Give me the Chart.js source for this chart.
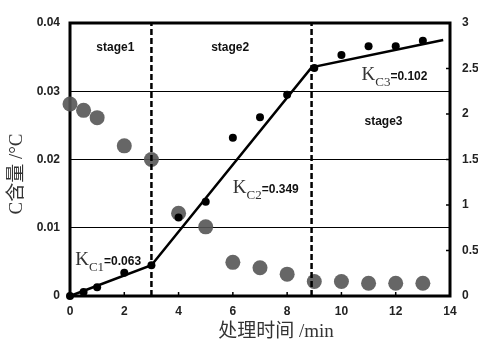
<!DOCTYPE html>
<html><head><meta charset="utf-8">
<script src="https://cdn.jsdelivr.net/npm/chart.js@4.4.1/dist/chart.umd.min.js"></script>
<style>html,body{margin:0;padding:0;background:#fff;}canvas{display:block;}</style>
</head><body>
<canvas id="c" width="478" height="343"></canvas>
<script>
// ---- data ----
const timeC = [0, 0.5, 1, 2, 3, 4, 5, 6, 7, 8, 9, 10, 11, 12, 13];
const carbon = [0, 0.0006, 0.0013, 0.0034, 0.0045, 0.0115, 0.0138, 0.0232, 0.0262, 0.0295, 0.0334, 0.0353, 0.0366, 0.0366, 0.0374];
const timeT = [0, 0.5, 1, 2, 3, 4, 5, 6, 7, 8, 9, 10, 11, 12, 13];
const tempRight = [2.11, 2.04, 1.96, 1.65, 1.5, 0.91, 0.76, 0.37, 0.31, 0.24, 0.16, 0.16, 0.14, 0.14, 0.14];
const fitX = [0, 3, 8.9, 13.75];
const fitY = [0, 0.0045, 0.0335, 0.0375];
const stageBounds = [3, 8.9];
const stageLabels = ['stage1', 'stage2', 'stage3'];
const stageLabelPos = [[1.67, 0.0364], [5.9, 0.0364], [11.55, 0.0256]];
const kNames = ['C1', 'C2', 'C3'];
const kValues = ['0.063', '0.349', '0.102'];
const kPos = [[0.19, 0.00455], [6.0, 0.0151], [10.74, 0.0316]];
const xTitle = '处理时间 /min';
const yTitle = 'C含量 /°C';

const toPts = (xs, ys) => xs.map((x, i) => ({x, y: ys[i]}));

const datasets = [
  {type: 'scatter', label: 'C', data: toPts(timeC, carbon), yAxisID: 'y', clip: false,
   pointRadius: 4, pointBackgroundColor: '#000', pointBorderWidth: 0, order: 0},
  {type: 'line', label: 'fit', data: toPts(fitX, fitY), yAxisID: 'y', clip: false,
   borderColor: '#000', borderWidth: 2.5, pointRadius: 0, fill: false, tension: 0, order: 1},
  {type: 'scatter', label: 'T', data: toPts(timeT, tempRight), yAxisID: 'y2', clip: false,
   pointRadius: 7.5, pointBackgroundColor: 'rgba(85,85,85,0.9)', pointBorderWidth: 0, order: 3}
];
stageBounds.forEach((b, i) => datasets.push({
  type: 'line', label: 'bound' + i, data: [{x: b, y: 0}, {x: b, y: 0.04}], yAxisID: 'y',
  borderColor: '#000', borderWidth: 2.5, borderDash: [6, 3], pointRadius: 0, order: 2
}));

const deco = {
  id: 'deco',
  beforeDatasetsDraw(chart) {
    const {ctx, chartArea: a, scales: {x, y2}} = chart;
    ctx.save();
    ctx.strokeStyle = '#000'; ctx.lineWidth = 1.5;
    y2.ticks.forEach(t => { const py = y2.getPixelForValue(t.value);
      ctx.beginPath(); ctx.moveTo(a.right - 4, py); ctx.lineTo(a.right, py); ctx.stroke(); });
    x.ticks.forEach(t => { const px = x.getPixelForValue(t.value);
      ctx.beginPath(); ctx.moveTo(px, a.bottom - 4); ctx.lineTo(px, a.bottom); ctx.stroke(); });
    ctx.lineWidth = 3;
    ctx.strokeRect(a.left, a.top, a.right - a.left, a.bottom - a.top);
    ctx.restore();
  },
  afterDatasetsDraw(chart) {
    const {ctx, scales: {x, y}} = chart;
    ctx.save();
    // stage labels
    ctx.fillStyle = '#111';
    ctx.font = 'bold 12px "Liberation Sans", Arial, sans-serif';
    ctx.textAlign = 'center'; ctx.textBaseline = 'middle';
    stageLabels.forEach((s, i) => ctx.fillText(s, x.getPixelForValue(stageLabelPos[i][0]), y.getPixelForValue(stageLabelPos[i][1])));
    // K labels
    ctx.textAlign = 'left'; ctx.textBaseline = 'alphabetic';
    kNames.forEach((n, i) => {
      let px = x.getPixelForValue(kPos[i][0]);
      const py = y.getPixelForValue(kPos[i][1]);
      ctx.fillStyle = '#333';
      ctx.font = '19px "Liberation Serif", "Times New Roman", serif';
      ctx.fillText('K', px, py); px += ctx.measureText('K').width;
      ctx.font = '13px "Liberation Serif", "Times New Roman", serif';
      ctx.fillText(n, px, py + 6); px += ctx.measureText(n).width;
      ctx.fillStyle = '#111';
      ctx.font = 'bold 12px "Liberation Sans", Arial, sans-serif';
      ctx.fillText('=' + kValues[i], px, py);
    });
    // axis titles
    ctx.fillStyle = '#333';
    ctx.font = '19px "Liberation Serif", "Noto Sans CJK SC", serif';
    ctx.textAlign = 'center'; ctx.textBaseline = 'middle';
    ctx.fillText(xTitle, 276, 332);
    ctx.translate(17, 174); ctx.rotate(-Math.PI / 2);
    ctx.fillText(yTitle, 0, 0);
    ctx.restore();
  }
};

const tickFont = {family: '"Liberation Sans", Arial, sans-serif', size: 12, weight: 'bold'};
const fmt = v => String(Math.round(v * 1000) / 1000);

new Chart(document.getElementById('c'), {
  data: {datasets},
  options: {
    responsive: false, animation: false,
    layout: {padding: {top: 23, left: 0, right: 0, bottom: 0}},
    plugins: {legend: {display: false}, tooltip: {enabled: false}},
    scales: {
      x: {type: 'linear', min: 0, max: 14,
          ticks: {stepSize: 2, font: tickFont, color: '#222', padding: 8, callback: fmt},
          grid: {display: false, drawTicks: false}, border: {display: false},
          afterFit: s => { s.height = 47; }},
      y: {type: 'linear', position: 'left', min: 0, max: 0.04,
          ticks: {stepSize: 0.01, font: tickFont, color: '#222', padding: 10, callback: fmt},
          grid: {color: '#000', lineWidth: 1, drawTicks: false}, border: {display: false},
          afterFit: s => { s.width = 70; }},
      y2: {type: 'linear', position: 'right', min: 0, max: 3,
          ticks: {stepSize: 0.5, font: tickFont, color: '#222', padding: 12, callback: fmt},
          grid: {display: false, drawTicks: false}, border: {display: false},
          afterFit: s => { s.width = 28; }}
    }
  },
  plugins: [deco]
});
</script>
</body></html>
